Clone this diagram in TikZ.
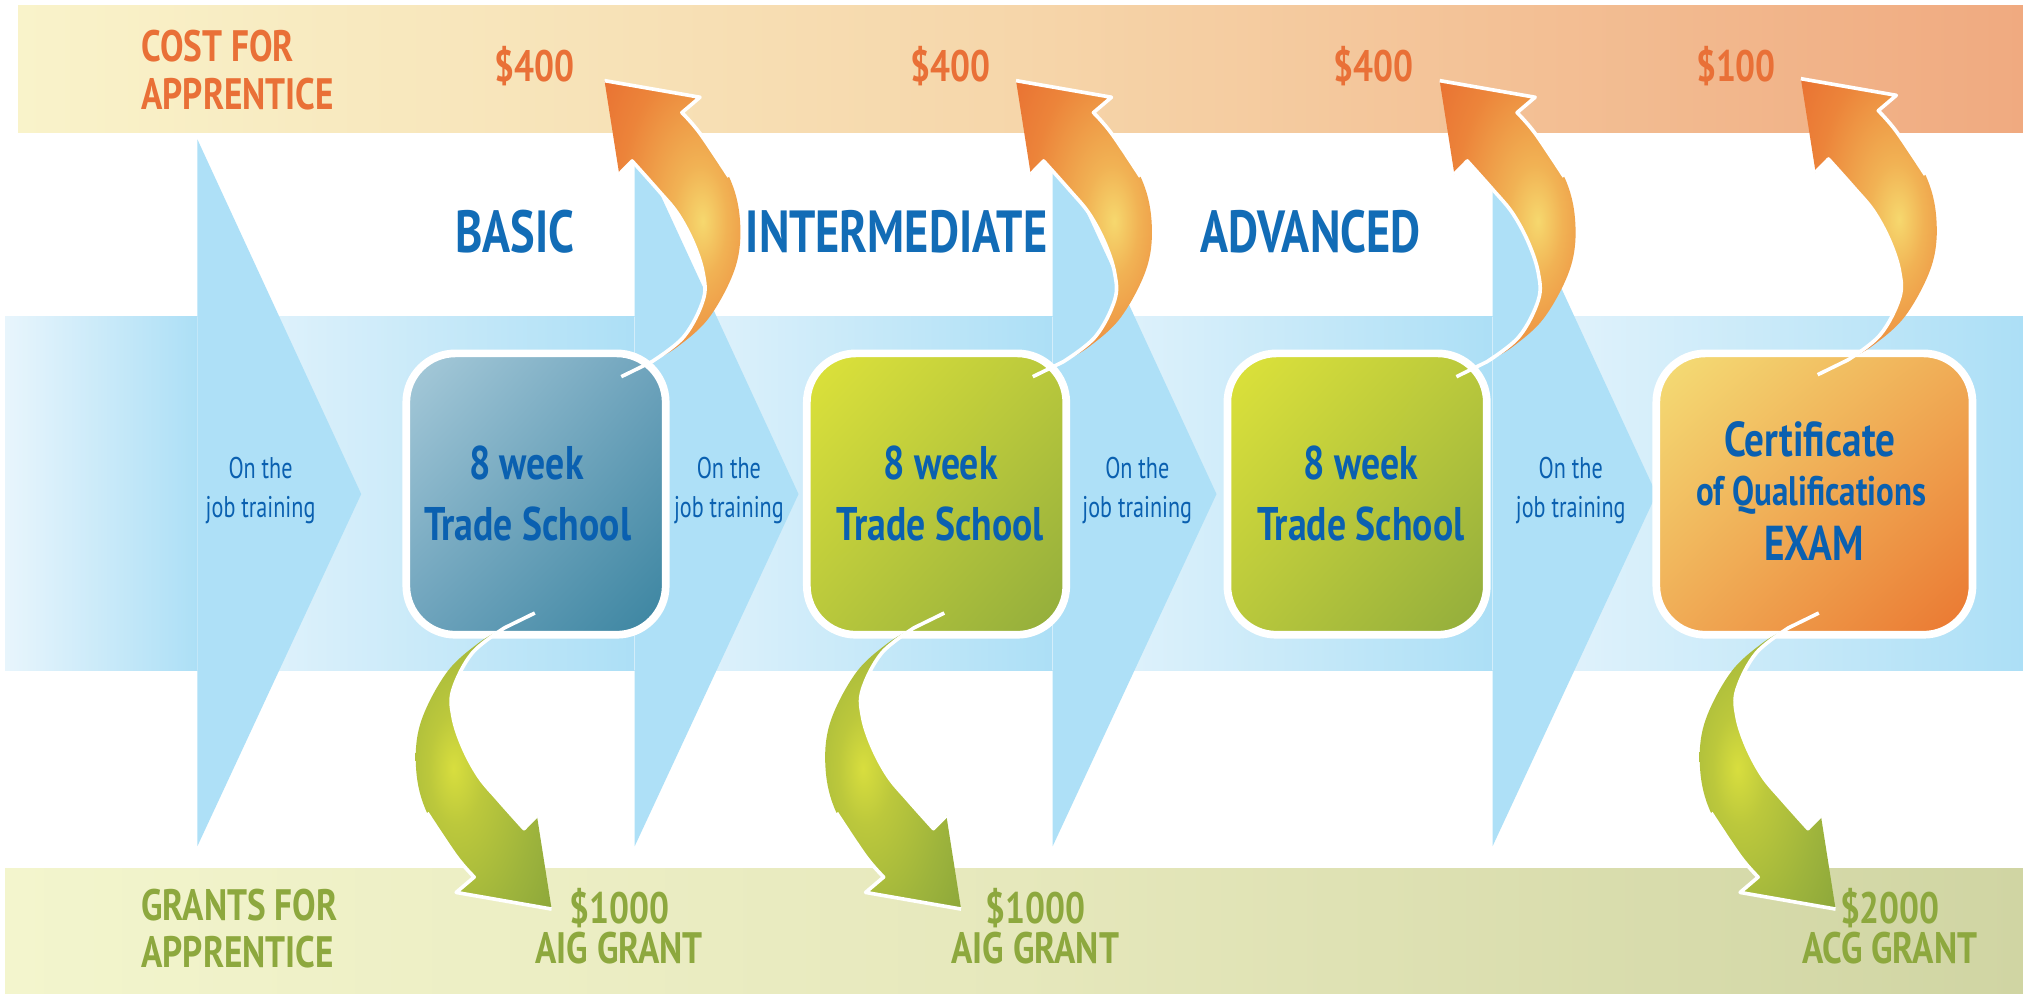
\documentclass[tikz,border=0pt]{standalone}
\usepackage{fontspec}
\usetikzlibrary{shadings}
\newfontfamily\cf{PT Sans}[FakeStretch=0.8]
\newfontfamily\cfh{PT Sans}[FakeStretch=0.78]
\newfontfamily\cfn{PT Sans}[FakeStretch=0.74]
\definecolor{tbA}{RGB}{249,243,202}
\definecolor{tbB}{RGB}{246,214,170}
\definecolor{tbC}{RGB}{240,170,128}
\definecolor{bbA}{RGB}{243,245,205}
\definecolor{bbB}{RGB}{230,232,188}
\definecolor{bbC}{RGB}{208,213,163}
\definecolor{blA}{RGB}{232,245,252}
\definecolor{blB}{RGB}{172,223,246}
\definecolor{chev}{RGB}{174,224,247}
\definecolor{otxt}{RGB}{233,112,55}
\definecolor{gtxt}{RGB}{141,168,62}
\definecolor{hblue}{RGB}{18,108,182}
\definecolor{bblue}{RGB}{10,96,176}
\definecolor{oyel}{RGB}{246,216,110}
\definecolor{omid}{RGB}{241,178,84}
\definecolor{oorb}{RGB}{236,132,58}
\definecolor{oora}{RGB}{232,108,48}
\definecolor{gyel}{RGB}{216,222,62}
\definecolor{gmid}{RGB}{188,200,60}
\definecolor{ggrb}{RGB}{158,180,60}
\definecolor{ggrn}{RGB}{135,163,58}
\definecolor{aA}{RGB}{168,203,218}
\definecolor{aB}{RGB}{110,163,188}
\definecolor{aC}{RGB}{58,132,160}
\definecolor{cA}{RGB}{222,227,58}
\definecolor{cB}{RGB}{185,200,60}
\definecolor{cC}{RGB}{145,172,60}
\definecolor{dA}{RGB}{244,222,118}
\definecolor{dB}{RGB}{240,172,86}
\definecolor{dC}{RGB}{234,118,48}
\pgfdeclareradialshading{orangeglow}{\pgfpoint{11bp}{0bp}}{color(0bp)=(oyel); color(10bp)=(omid); color(28bp)=(oorb); color(45bp)=(oora); color(100bp)=(oora)}
\pgfdeclareradialshading{greenglow}{\pgfpoint{-11bp}{0bp}}{color(0bp)=(gyel); color(10bp)=(gmid); color(28bp)=(ggrb); color(45bp)=(ggrn); color(100bp)=(ggrn)}
\newcommand\arrowshape{(0,0) -- (74,12.9) -- (60,24.8) -- plot[smooth, tension=0.6] coordinates {(60,24.8) (74,40.9) (96.5,74.5) (105,108) (101.6,144.2) (81.6,183) (56.6,206.3) (36.5,218)} -- plot[smooth, tension=0.6] coordinates {(36.5,218) (61.5,198.5) (76.5,170) (76.5,149.4) (69,126) (56.6,102.9) (41.5,84.8) (21.4,62.3)} -- (11.4,72.5) -- cycle}
\newcommand\arrowedge{(13,229.5) -- plot[smooth, tension=0.6] coordinates {(36.5,218) (61.5,198.5) (76.5,170) (76.5,149.4) (69,126) (56.6,102.9) (41.5,84.8) (21.4,62.3)} -- (11.4,72.5) (0,0) -- (74,12.9) -- (60,24.8) -- plot[smooth, tension=0.6] coordinates {(60,24.8) (74,40.9) (96.5,74.5)}}
\newcommand\costarrow[2]{\begin{scope}[shift={(#1,#2)}]
  \shade[shading=orangeglow] \arrowshape;
  \draw[white, line width=0.8pt, line join=round] \arrowedge;
\end{scope}}
\newcommand\grantarrow[2]{\begin{scope}[shift={(#1,#2)}, scale=-1]
  \shade[shading=greenglow] \arrowshape;
  \draw[white, line width=0.8pt, line join=round] \arrowedge;
\end{scope}}
\begin{document}
\begin{tikzpicture}[x=0.01cm, y=-0.01cm,
  every node/.style={inner sep=0pt},
  toplbl/.style={font=\cf\bfseries\fontsize{9.7}{11}\selectfont, text=otxt},
  botlbl/.style={font=\cf\bfseries\fontsize{9.7}{11}\selectfont, text=gtxt},
  hdr/.style={font=\cfh\bfseries\fontsize{13.1}{15}\selectfont, text=hblue},
  boxtxt/.style={font=\cf\bfseries\fontsize{10.4}{12}\selectfont, text=bblue},
  certtxt/.style={font=\cf\bfseries\fontsize{10.8}{12}\selectfont, text=bblue},
  smalltxt/.style={font=\cf\bfseries\fontsize{9.1}{10}\selectfont, text=bblue},
  ojt/.style={font=\cfn\fontsize{6.6}{8}\selectfont, text=bblue},
  stagebox/.style={draw=white, line width=1.7pt, rounded corners=0.38cm, minimum height=2.18cm}]
\useasboundingbox (0,0) rectangle (1568.2,770.5);
\fill[white] (0,0) rectangle (1568.2,770.5);
% bands
\shade[left color=tbA, right color=tbC, middle color=tbB] (14,4) rectangle (1568.2,103);
\shade[left color=bbA, right color=bbC, middle color=bbB] (4,673) rectangle (1568.2,770.5);
\foreach \a/\b in {4/154,153/493,492/817,816/1158,1157/1568.2}
  \shade[left color=blA, right color=blB] (\a,245.5) rectangle (\b,520);
\foreach \x in {153,492,816,1157}
  \fill[chev] (\x,108) -- (\x+127,383) -- (\x,656) -- cycle;
% boxes
\node[stagebox, minimum width=2.01cm, upper left=aA, upper right=aB, lower left=aB, lower right=aC] (b1) at (415.5,383) {};
\node[stagebox, minimum width=2.01cm, upper left=cA, upper right=cB, lower left=cB, lower right=cC] (b2) at (726,383) {};
\node[stagebox, minimum width=2.01cm, upper left=cA, upper right=cB, lower left=cB, lower right=cC] (b3) at (1052,383) {};
\node[stagebox, minimum width=2.45cm, upper left=dA, upper right=dB, lower left=dB, lower right=dC] (b4) at (1406.5,383) {};
% box texts
\node[boxtxt, anchor=base] (t1a) at (408,372) {8 week};
\node[boxtxt, anchor=base] (t1b) at (409,419) {Trade School};
\node[boxtxt, anchor=base] (t2a) at (729,372) {8 week};
\node[boxtxt, anchor=base] (t2b) at (729,419) {Trade School};
\node[boxtxt, anchor=base] (t3a) at (1055,372) {8 week};
\node[boxtxt, anchor=base] (t3b) at (1055,419) {Trade School};
\node[certtxt, anchor=base] (t4a) at (1403,354) {Certificate};
\node[smalltxt, anchor=base] (t4b) at (1404,392) {of Qualifications};
\node[certtxt, anchor=base] (t4c) at (1406,434.6) {EXAM};
% on the job training
\foreach \x [count=\i] in {202,565,881.6,1217.6}{
  \node[ojt, anchor=base] (oa\i) at (\x,371) {On the};
  \node[ojt, anchor=base] (ob\i) at (\x,401) {job training};}
% headers
\node[hdr, anchor=base] (h1) at (399,196) {BASIC};
\node[hdr, anchor=base] (h2) at (695,196) {INTERMEDIATE};
\node[hdr, anchor=base] (h3) at (1016,196) {ADVANCED};
% cost labels
\node[toplbl, anchor=base west] (c1) at (109,47.8) {COST FOR};
\node[toplbl, anchor=base west] (c2) at (109,85) {APPRENTICE};
\node[toplbl, anchor=base] (p1) at (414,63.3) {\$400};
\node[toplbl, anchor=base] (p2) at (737,63.3) {\$400};
\node[toplbl, anchor=base] (p3) at (1065,63.3) {\$400};
\node[toplbl, anchor=base] (p4) at (1345.7,63.3) {\$100};
% grant labels
\node[botlbl, anchor=base west] (g1) at (109,713.7) {GRANTS FOR};
\node[botlbl, anchor=base west] (g2) at (109,750) {APPRENTICE};
\node[botlbl, anchor=base] (m1) at (480,716) {\$1000};
\node[botlbl, anchor=base] (n1) at (480,747) {AIG GRANT};
\node[botlbl, anchor=base] (m2) at (802.6,716) {\$1000};
\node[botlbl, anchor=base] (n2) at (802.6,747) {AIG GRANT};
\node[botlbl, anchor=base] (m3) at (1465,716) {\$2000};
\node[botlbl, anchor=base] (n3) at (1465,747) {ACG GRANT};
% arrows
\costarrow{468.6}{62.5}
\costarrow{787.6}{62.5}
\costarrow{1116}{62.5}
\costarrow{1396}{61}
\grantarrow{427.6}{704.7}
\grantarrow{745}{704.7}
\grantarrow{1422.9}{704.7}
\end{tikzpicture}
\end{document}
